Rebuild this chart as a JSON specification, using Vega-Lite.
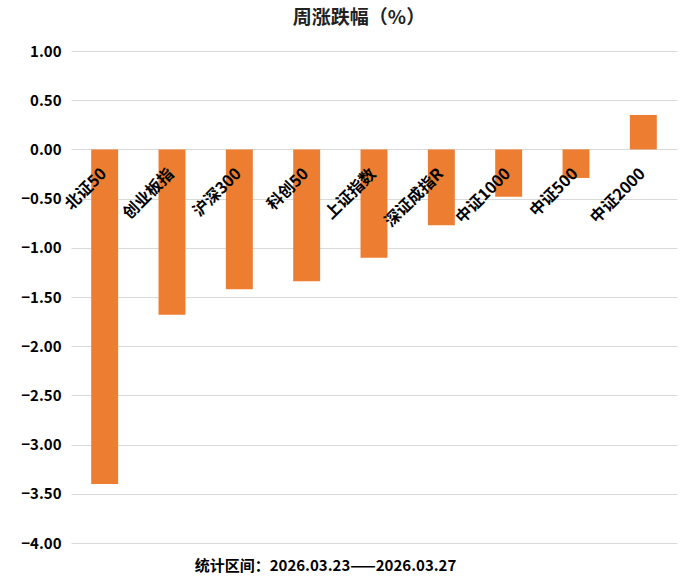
{
  "$schema": "https://vega.github.io/schema/vega-lite/v6.json",
  "autosize": {"type": "none"},
  "width": 606,
  "height": 492,
  "padding": {"left": 71, "top": 51, "right": 20, "bottom": 43},
  "background": "white",
  "title": {
    "text": "周涨跌幅（%）",
    "font": "Noto Sans CJK SC",
    "fontSize": 19,
    "fontWeight": "bold",
    "color": "#222222",
    "anchor": "middle",
    "dx": -15,
    "offset": 16
  },
  "config": {
    "view": {"stroke": null},
    "font": "Noto Sans CJK SC"
  },
  "data": {
    "values": [
      {"name": "北证50", "value": -3.40},
      {"name": "创业板指", "value": -1.68},
      {"name": "沪深300", "value": -1.42},
      {"name": "科创50", "value": -1.34},
      {"name": "上证指数", "value": -1.10},
      {"name": "深证成指R", "value": -0.77},
      {"name": "中证1000", "value": -0.48},
      {"name": "中证500", "value": -0.29},
      {"name": "中证2000", "value": 0.35}
    ]
  },
  "encoding": {
    "x": {
      "field": "name",
      "type": "nominal",
      "sort": null,
      "scale": {"paddingInner": 0.6, "paddingOuter": 0.3},
      "axis": {
        "title": "统计区间：2026.03.23——2026.03.27",
        "titleFont": "Noto Sans CJK SC",
        "titleFontSize": 15,
        "titleFontWeight": "bold",
        "titleColor": "#000000",
        "titleX": 254,
        "titleY": 22,
        "titleAnchor": null,
        "titleAlign": "center",
        "titleBaseline": "middle",
        "labels": false,
        "ticks": false,
        "domain": false,
        "grid": false
      }
    }
  },
  "layer": [
    {
      "mark": {"type": "bar", "color": "#ED7D31"},
      "encoding": {
        "y": {
          "field": "value",
          "type": "quantitative",
          "scale": {"domain": [-4, 1], "nice": false, "zero": false},
          "axis": {
            "title": null,
            "values": [-4, -3.5, -3, -2.5, -2, -1.5, -1, -0.5, 0, 0.5, 1],
            "format": ".2f",
            "labelFont": "Noto Sans CJK SC",
            "labelFontSize": 15,
            "labelFontWeight": "bold",
            "labelColor": "#000000",
            "labelPadding": 10,
            "ticks": false,
            "domain": false,
            "grid": true,
            "gridColor": "#D9D9D9",
            "gridWidth": 1
          }
        }
      }
    },
    {
      "mark": {
        "type": "text",
        "angle": -45,
        "align": "right",
        "baseline": "middle",
        "font": "Noto Sans CJK SC",
        "fontSize": 16,
        "fontWeight": "bold",
        "color": "#000000",
        "dx": -16,
        "dy": 15
      },
      "encoding": {
        "y": {"datum": 0, "type": "quantitative"},
        "text": {"field": "name"}
      }
    }
  ]
}
